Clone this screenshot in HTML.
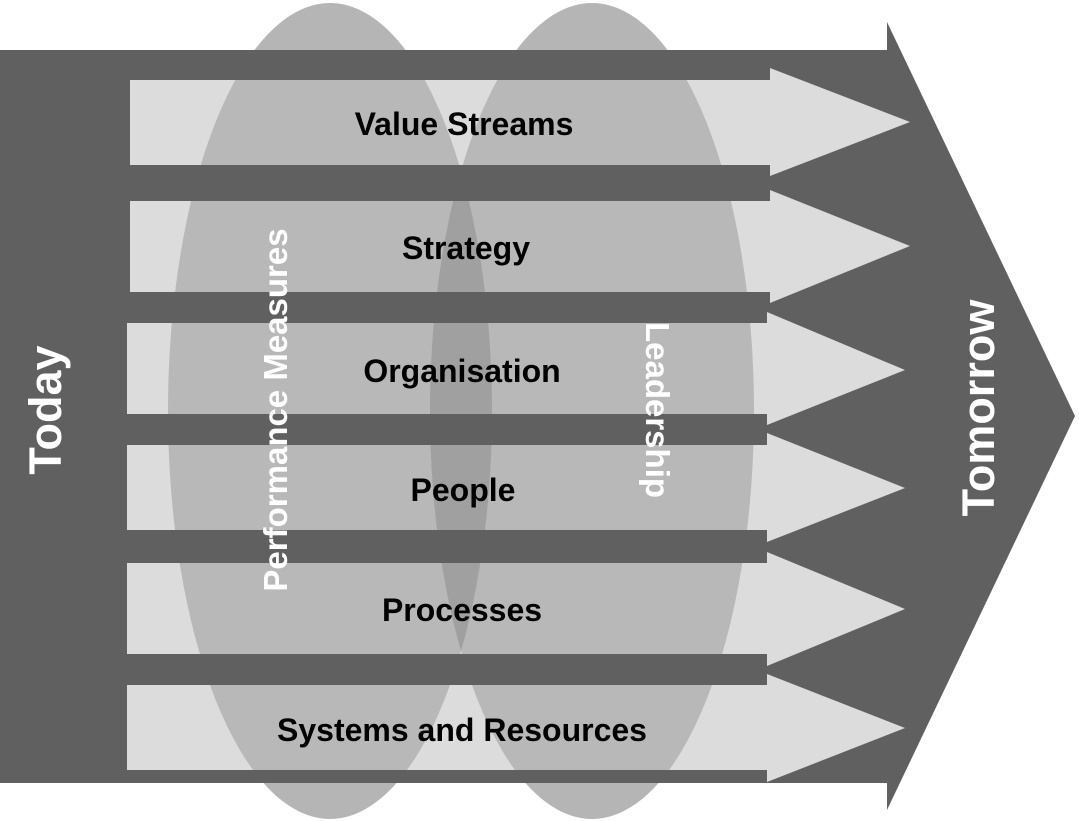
<!DOCTYPE html>
<html><head><style>html,body{margin:0;padding:0;background:#fff}svg{display:block}</style></head>
<body>
<svg width="1079" height="821" viewBox="0 0 1079 821" xmlns="http://www.w3.org/2000/svg" font-family="Liberation Sans, Arial, sans-serif" font-weight="bold">
<defs>
<clipPath id="arrows">
<polygon points="130,80 770,80 770,68 910,122 770,176 770,165 130,165"/>
<polygon points="130,201 770,201 770,190 910,246 770,303 770,292 130,292"/>
<polygon points="127,323 767,323 767,312 905,370 767,425 767,414 127,414"/>
<polygon points="127,445 767,445 767,433 905,488 767,542 767,530 127,530"/>
<polygon points="127,563 767,563 767,552 905,609 767,666 767,654 127,654"/>
<polygon points="127,685 767,685 767,674 905,728 767,782 767,770 127,770"/>
</clipPath>
<clipPath id="leftE"><ellipse cx="330" cy="411" rx="162" ry="408"/></clipPath>
</defs>
<ellipse cx="330" cy="411" rx="162" ry="408" fill="#b5b5b5"/>
<ellipse cx="592" cy="411" rx="162" ry="408" fill="#b5b5b5"/>
<polygon points="0,50 887,50 887,22 1075,416 887,810 887,783 0,783" fill="#606060"/>
<g fill="#dcdcdc">
<polygon points="130,80 770,80 770,68 910,122 770,176 770,165 130,165"/>
<polygon points="130,201 770,201 770,190 910,246 770,303 770,292 130,292"/>
<polygon points="127,323 767,323 767,312 905,370 767,425 767,414 127,414"/>
<polygon points="127,445 767,445 767,433 905,488 767,542 767,530 127,530"/>
<polygon points="127,563 767,563 767,552 905,609 767,666 767,654 127,654"/>
<polygon points="127,685 767,685 767,674 905,728 767,782 767,770 127,770"/>
</g>
<g clip-path="url(#arrows)">
<ellipse cx="330" cy="411" rx="162" ry="408" fill="#b8b8b8"/>
<ellipse cx="592" cy="411" rx="162" ry="408" fill="#b8b8b8"/>
<g clip-path="url(#leftE)"><ellipse cx="592" cy="411" rx="162" ry="408" fill="#a0a0a0"/></g>
</g>
<g font-size="32" fill="#000" text-anchor="middle">
<text x="464" y="135">Value Streams</text>
<text x="466" y="259">Strategy</text>
<text x="462" y="382">Organisation</text>
<text x="463" y="501">People</text>
<text x="462" y="621">Processes</text>
<text x="462" y="741">Systems and Resources</text>
</g>
<g fill="#fff" text-anchor="middle">
<text font-size="45" transform="translate(61,410) rotate(-90)">Today</text>
<text font-size="45" transform="translate(994,408) rotate(-90)">Tomorrow</text>
<text font-size="33" transform="translate(287,410) rotate(-90)">Performance Measures</text>
<text font-size="33" transform="translate(646,410) rotate(90)">Leadership</text>
</g>
</svg>
</body></html>
